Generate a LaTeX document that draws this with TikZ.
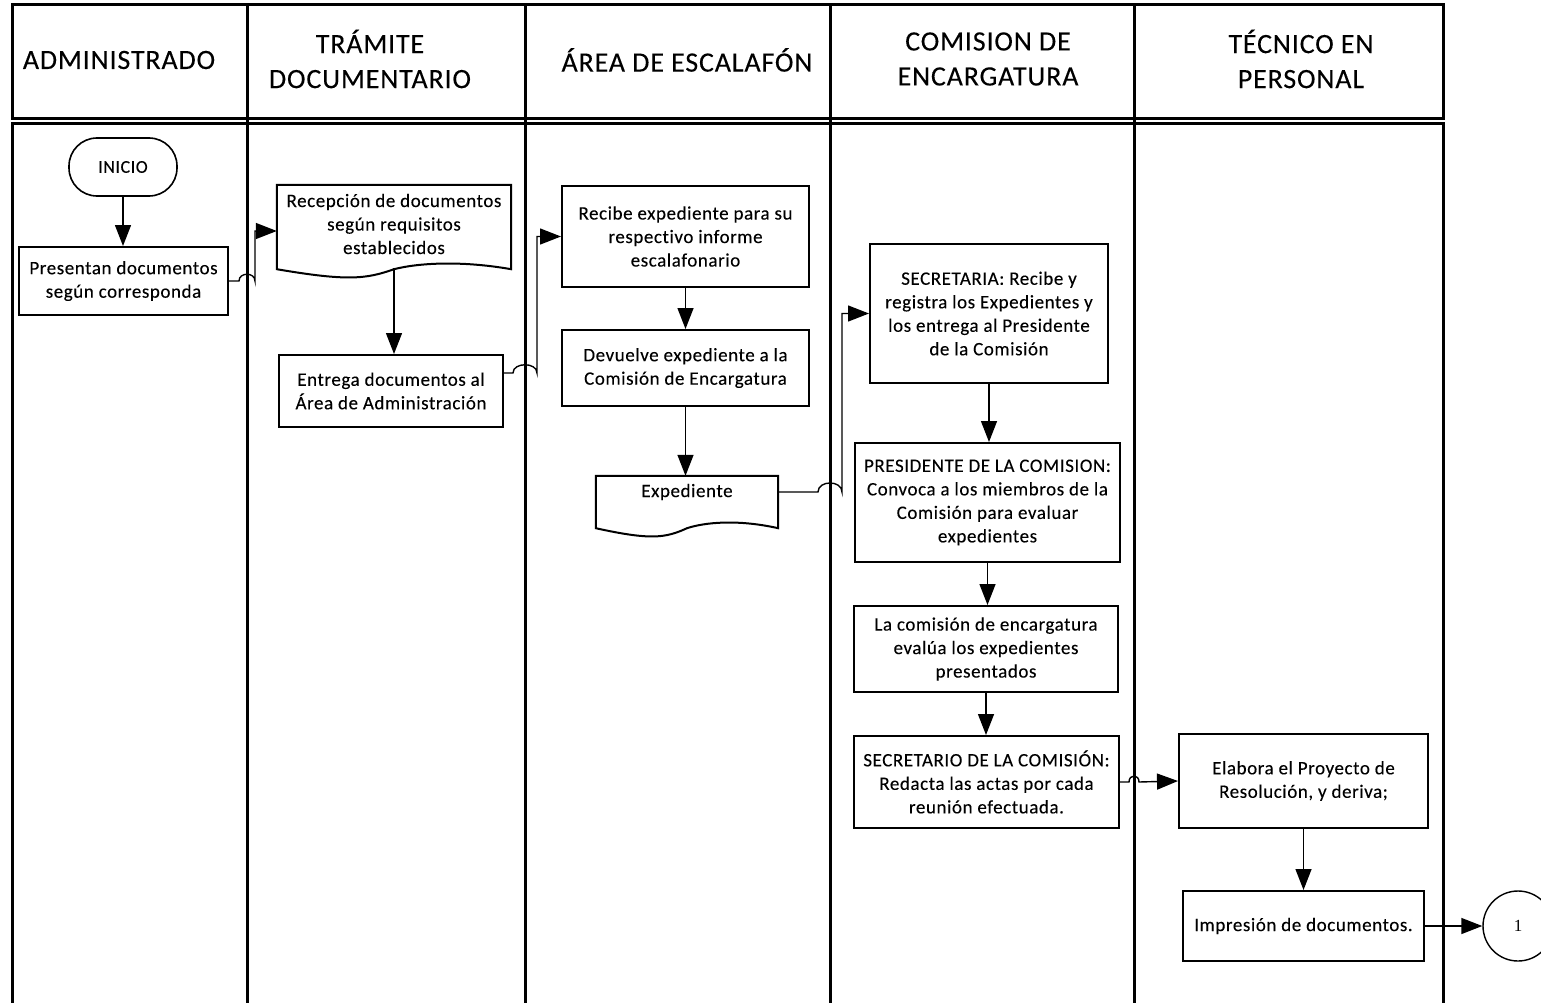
\documentclass[tikz,border=0pt]{standalone}
\usepackage{fontspec}
\setmainfont{Carlito}[LetterSpace=3, Ligatures=NoCommon, FakeBold=0.12]
\newfontfamily\numfont{Liberation Serif}
\usetikzlibrary{arrows.meta,calc}

\newcommand\bodyfont{\fontsize{19}{23.5}\selectfont}
\newcommand\headfont{\fontsize{28}{35}\selectfont}

\tikzset{
  x=1pt, y=-1pt,
  frame/.style={line width=3pt},
  lane/.style={line width=3pt},
  headtext/.style={align=center, font=\headfont, inner sep=0pt},
  procbox/.style={draw, line width=2pt, align=center, inner sep=2pt, font=\bodyfont},
  docbox/.style={draw=none, align=center, inner sep=2pt, font=\bodyfont},
  docline/.style={line width=2pt},
  termbox/.style={draw, line width=1.6pt, rounded corners=28pt, align=center,
                  font=\fontsize{18}{20}\selectfont},
  flow/.style={line width=1.4pt, -{Triangle[length=21pt,width=16pt]}},
}

% document symbol: straight top and sides, wavy bottom edge
\newcommand\docoutline[3]{%
  \draw[docline] (#1.north west) -- (#1.north east) -- ($(#1.south east)+(0,#3)$)
    .. controls +({-0.22*#2},-9) and +({0.1*#2},-6) .. ($(#1.south)+(0,#3)$)
    .. controls +({-0.12*#2},10) and +({0.3*#2},12) .. ($(#1.south west)+(0,#3)$)
    -- cycle;}

\begin{document}
\begin{tikzpicture}
\path[use as bounding box] (0,0) rectangle (1541,1003);
\clip (0,0) rectangle (1541,1003);
\fill[white] (0,0) rectangle (1541,1003);

% swimlane frame
\draw[frame] (12,5) rectangle (1443,119);
\draw[frame] (12,124) rectangle (1443,1020);
\foreach \lx in {247,525,830,1134}
  \draw[lane] (\lx,5) -- (\lx,1010);

% lane titles
\node[headtext] (h1) at (119,60) {ADMINISTRADO};
\node[headtext] (h2) at (370,59) {TRÁMITE\\DOCUMENTARIO};
\node[headtext] (h3) at (687,60) {ÁREA DE ESCALAFÓN};
\node[headtext] (h4) at (988,59) {COMISION DE\\ENCARGATURA};
\node[headtext] (h5) at (1301,59) {TÉCNICO EN\\PERSONAL};

% steps
\node[termbox, minimum width=108, minimum height=58] (inicio) at (123,167) {INICIO};
\node[procbox, minimum width=209, minimum height=68] (pres) at (123.5,281)
  {Presentan documentos\\según corresponda};
\node[docbox, minimum width=234, minimum height=78] (rec) at (394,224)
  {Recepción de documentos\\según requisitos\\establecidos};
\docoutline{rec}{234}{6}
\node[procbox, minimum width=224, minimum height=72] (ent) at (391,391)
  {Entrega documentos al\\Área de Administración};
\node[procbox, minimum width=247, minimum height=101] (recibe) at (685.5,236.5)
  {Recibe expediente para su\\respectivo informe\\escalafonario};
\node[procbox, minimum width=247, minimum height=76] (dev) at (685.5,368)
  {Devuelve expediente a la\\Comisión de Encargatura};
\node[docbox, minimum width=182, minimum height=32] (exp) at (687,492) {Expediente};
\docoutline{exp}{182}{20}
\node[procbox, minimum width=238, minimum height=139] (secretaria) at (989,313.5)
  {SECRETARIA: Recibe y\\registra los Expedientes y\\los entrega al Presidente\\de la Comisión};
\node[procbox, minimum width=265, minimum height=119] (presidente) at (987.5,502.5)
  {PRESIDENTE DE LA COMISION:\\Convoca a los miembros de la\\Comisión para evaluar\\expedientes};
\node[procbox, minimum width=264, minimum height=86] (evalua) at (986,649)
  {La comisión de encargatura\\evalúa los expedientes\\presentados};
\node[procbox, minimum width=265, minimum height=92] (secretario) at (986.5,782)
  {SECRETARIO DE LA COMISIÓN:\\Redacta las actas por cada\\reunión efectuada.};
\node[procbox, minimum width=249, minimum height=94] (elabora) at (1303.5,781)
  {Elabora el Proyecto de\\Resolución, y deriva;};
\node[procbox, minimum width=241, minimum height=70] (impresion) at (1303.5,926)
  {Impresión de documentos.};
\node[draw, circle, line width=1.4pt, minimum size=70, inner sep=0pt,
      font=\numfont\fontsize{17}{20}\selectfont] (one) at (1518,926) {1};

% vertical flow
\draw[flow] (inicio.south) -- (inicio.south |- pres.north);
\draw[flow] ([yshift=-5pt]rec.south) -- (rec.south |- ent.north);
\draw[flow] (recibe.south) -- (recibe.south |- dev.north);
\draw[flow] (dev.south) -- (dev.south |- exp.north);
\draw[flow] (secretaria.south) -- (secretaria.south |- presidente.north);
\draw[flow] (presidente.south) -- (presidente.south |- evalua.north);
\draw[flow] (evalua.south) -- (evalua.south |- secretario.north);
\draw[flow] (elabora.south) -- (elabora.south |- impresion.north);

% connectors between lanes, hopping over the lane lines
\draw[flow] (pres.east) -- (239,281) .. controls +(0,-9) and +(0,-9) .. (255,281)
  |- ([yshift=-7pt]rec.west);
\draw[flow] ([yshift=18pt]ent.east) -- (513,373) .. controls +(0,-11) and +(0,-11) .. (537,373)
  |- (recibe.west);
\draw[flow] (exp.east) -- (818,492) .. controls +(0,-12) and +(0,-12) .. (842,492)
  |- (secretaria.west);
\draw[flow] (secretario.east) -- (1129,782) .. controls +(0,-8) and +(0,-8) .. (1139,782)
  -- (elabora.west);
\draw[flow] (impresion.east) -- (one.west);
\end{tikzpicture}
\end{document}
